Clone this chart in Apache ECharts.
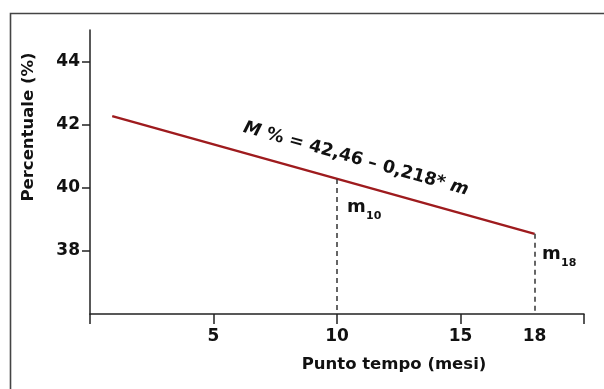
<!DOCTYPE html>
<html>
<head>
<meta charset="utf-8">
<script src="https://cdn.jsdelivr.net/npm/echarts@6/dist/echarts.min.js"></script>
<style>html,body{margin:0;padding:0;background:#fff}#c{width:604px;height:389px}</style>
</head>
<body>
<div id="c"></div>
<script>
// Data
const lineMonths = [0.9, 18];
const lineValues = [42.27, 38.54];
const dropMonths = [10, 18];
const dropValues = [40.28, 38.54];
const xTickValues = [0, 5, 10, 15, 20];
const xLabelValues = [5, 10, 15, 18];
const yTickValues = [38, 40, 42, 44];
const equationText = '{i|M} % = 42,46 – 0,218* {i|m}';

const FONT = 'DejaVu Sans';
const chart = echarts.init(document.getElementById('c'), null, {renderer: 'canvas'});

const lineData = lineMonths.map((m, i) => [m, lineValues[i]]);
const dropLines = dropMonths.map((m, i) => [
  {coord: [m, dropValues[i]]},
  {coord: [m, 36]}
]);

chart.setOption({
  animation: false,
  backgroundColor: '#fff',
  grid: {left: 90, right: 20, top: 30, bottom: 75},
  xAxis: {
    type: 'value', min: 0, max: 20,
    axisLine: {show: true, lineStyle: {color: '#222', width: 1.5}},
    axisTick: {show: true, customValues: xTickValues, length: 10, lineStyle: {color: '#222', width: 1.5}},
    axisLabel: {customValues: xLabelValues, margin: 14, color: '#111', fontFamily: FONT, fontWeight: 'bold', fontSize: 17},
    splitLine: {show: false}
  },
  yAxis: {
    type: 'value', min: 36, max: 45,
    axisLine: {show: true, lineStyle: {color: '#222', width: 1.5}},
    axisTick: {show: true, customValues: yTickValues, length: 8, lineStyle: {color: '#222', width: 1.5}},
    axisLabel: {customValues: yTickValues, margin: 10, color: '#111', fontFamily: FONT, fontWeight: 'bold', fontSize: 17},
    splitLine: {show: false}
  },
  series: [{
    type: 'line',
    data: lineData,
    symbol: 'none',
    lineStyle: {color: '#9e1b1e', width: 2.5},
    markLine: {
      silent: true,
      symbol: 'none',
      label: {show: false},
      lineStyle: {color: '#333', width: 1.5, type: [5, 4]},
      data: dropLines
    }
  }],
  graphic: [
    {type: 'rect', left: 8, top: 11, shape: {width: 700, height: 500},
     style: {fill: 'none', stroke: '#444', lineWidth: 1.6}, silent: true},
    {type: 'text', x: 29, y: 127, rotation: Math.PI / 2,
     style: {text: 'Percentuale (%)', fontFamily: FONT, fontWeight: 'bold', fontSize: 16.5,
             fill: '#111', textAlign: 'center', textVerticalAlign: 'middle'}},
    {type: 'text', x: 394, y: 365,
     style: {text: 'Punto tempo (mesi)', fontFamily: FONT, fontWeight: 'bold', fontSize: 16.5,
             fill: '#111', textAlign: 'center', textVerticalAlign: 'middle'}},
    {type: 'text', x: 356, y: 159, rotation: -0.274,
     style: {text: equationText, fontFamily: FONT, fontWeight: 'bold', fontSize: 17.5,
             fill: '#111', textAlign: 'center', textVerticalAlign: 'middle',
             rich: {i: {fontFamily: FONT, fontWeight: 'bold', fontStyle: 'italic', fontSize: 17.5, fill: '#111'}}}},
    {type: 'text', x: 347, y: 216,
     style: {text: 'm', fontFamily: FONT, fontWeight: 'bold', fontSize: 18, fill: '#111', textAlign: 'left', textVerticalAlign: 'bottom'}},
    {type: 'text', x: 366, y: 222,
     style: {text: '10', fontFamily: FONT, fontWeight: 'bold', fontSize: 11, fill: '#111', textAlign: 'left', textVerticalAlign: 'bottom'}},
    {type: 'text', x: 542, y: 263,
     style: {text: 'm', fontFamily: FONT, fontWeight: 'bold', fontSize: 18, fill: '#111', textAlign: 'left', textVerticalAlign: 'bottom'}},
    {type: 'text', x: 561, y: 269,
     style: {text: '18', fontFamily: FONT, fontWeight: 'bold', fontSize: 11, fill: '#111', textAlign: 'left', textVerticalAlign: 'bottom'}}
  ]
});
</script>
</body>
</html>
